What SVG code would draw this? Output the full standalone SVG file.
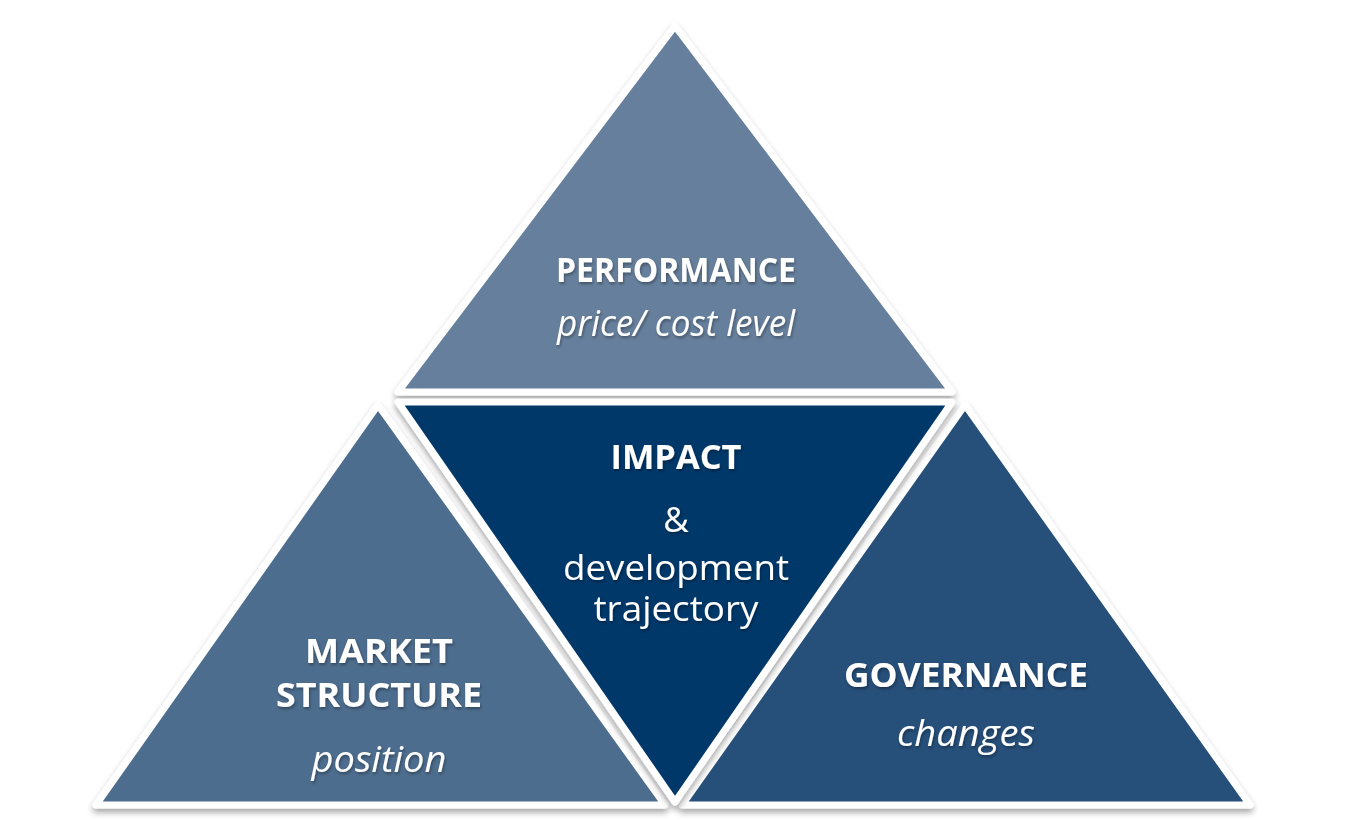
<svg xmlns="http://www.w3.org/2000/svg" width="1348" height="820" viewBox="0 0 1348 820">
<defs>
<filter id="sh" x="-10%" y="-10%" width="120%" height="125%">
<feGaussianBlur in="SourceAlpha" stdDeviation="3"/>
<feOffset dx="0" dy="4" result="b"/>
<feComponentTransfer><feFuncA type="linear" slope="0.35"/></feComponentTransfer>
<feMerge><feMergeNode/><feMergeNode in="SourceGraphic"/></feMerge>
</filter>
<filter id="ts" x="-10%" y="-30%" width="120%" height="160%">
<feGaussianBlur in="SourceAlpha" stdDeviation="1.5"/>
<feOffset dx="1" dy="2"/>
<feComponentTransfer><feFuncA type="linear" slope="0.35"/></feComponentTransfer>
<feMerge><feMergeNode/><feMergeNode in="SourceGraphic"/></feMerge>
</filter>
</defs>
<style>
.tri{stroke:#fff;stroke-width:7;stroke-linejoin:round;filter:url(#sh)}
text{fill:#fff;font-family:"Open Sans","Noto Sans",sans-serif;text-anchor:middle;filter:url(#ts)}
.b{font-weight:bold;font-size:34px}
.i{font-style:italic;font-size:36px}
.n{font-size:35px}
</style>
<rect width="1348" height="820" fill="#fff"/>
<g id="performance">
<polygon class="tri" points="675,26 952,392 398,392" fill="#667f9c"/>
<text class="b" x="676" y="282" textLength="240" lengthAdjust="spacingAndGlyphs">PERFORMANCE</text>
<text class="i" x="676" y="336" textLength="238" lengthAdjust="spacingAndGlyphs">price/ cost level</text>
</g>
<g id="market-structure">
<polygon class="tri" points="378,405 665,805 96,805" fill="#4e6d8e"/>
<text class="b" x="379" y="663" textLength="148" lengthAdjust="spacingAndGlyphs">MARKET</text>
<text class="b" x="379" y="707" textLength="206" lengthAdjust="spacingAndGlyphs">STRUCTURE</text>
<text class="i" x="379" y="772" textLength="135" lengthAdjust="spacingAndGlyphs">position</text>
</g>
<g id="governance">
<polygon class="tri" points="965,405 1250,805 682,805" fill="#254f7a"/>
<text class="b" x="966" y="687" textLength="244" lengthAdjust="spacingAndGlyphs">GOVERNANCE</text>
<text class="i" x="966" y="746" textLength="138" lengthAdjust="spacingAndGlyphs">changes</text>
</g>
<g id="impact">
<polygon class="tri" points="398,402 952,402 675,802" fill="#04386b"/>
<text class="b" x="676" y="469" textLength="131" lengthAdjust="spacingAndGlyphs">IMPACT</text>
<text class="n" x="676" y="532">&amp;</text>
<text class="n" x="676" y="580" textLength="226" lengthAdjust="spacingAndGlyphs">development</text>
<text class="n" x="676" y="621" textLength="165" lengthAdjust="spacingAndGlyphs">trajectory</text>
</g>
<g id="connectors"></g>
</svg>
